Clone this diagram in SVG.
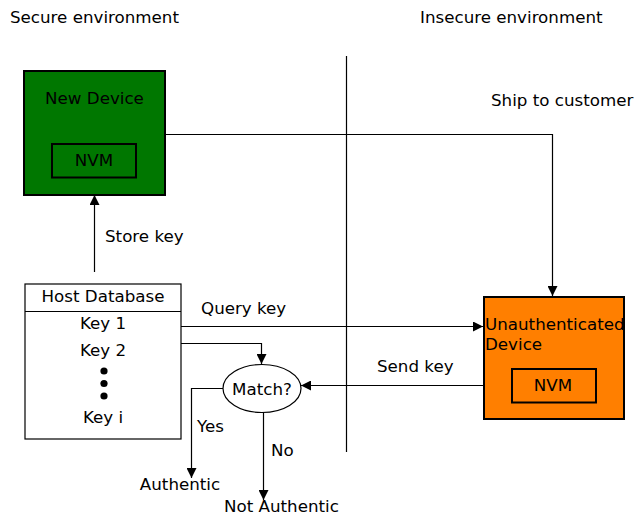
<svg xmlns="http://www.w3.org/2000/svg" width="636" height="519" viewBox="0 0 636 519">
  <style>
    text { font-family: "DejaVu Sans", Verdana, sans-serif; font-size: 16.7px; fill: #000; }
    .mid { text-anchor: middle; }
    .wire { fill: none; stroke: #000; stroke-width: 1.2; }
    .box { stroke: #000; stroke-width: 2; }
    .thin { fill: #fff; stroke: #000; stroke-width: 1.2; }
  </style>
  <defs>
    <marker id="arrow" viewBox="0 0 10 10" refX="10" refY="5" markerWidth="10" markerHeight="10" markerUnits="userSpaceOnUse" orient="auto">
      <path d="M0,0 L10,5 L0,10 z" fill="#000"/>
    </marker>
  </defs>
  <rect width="636" height="519" fill="#fff"/>

  <!-- zone titles -->
  <text x="10" y="23">Secure environment</text>
  <text x="420" y="23">Insecure environment</text>

  <!-- connectors -->
  <g id="connectors">
    <line class="wire" x1="346.5" y1="56" x2="346.5" y2="452"/>
    <polyline class="wire" points="165,134.5 552.5,134.5 552.5,296" marker-end="url(#arrow)"/>
    <line class="wire" x1="94.5" y1="272" x2="94.5" y2="195" marker-end="url(#arrow)"/>
    <line class="wire" x1="181" y1="326.5" x2="483" y2="326.5" marker-end="url(#arrow)"/>
    <polyline class="wire" points="179,343.5 261.5,343.5 261.5,364" marker-end="url(#arrow)"/>
    <line class="wire" x1="511" y1="385.5" x2="301" y2="385.5" marker-end="url(#arrow)"/>
    <polyline class="wire" points="223,388.5 191.5,388.5 191.5,478" marker-end="url(#arrow)"/>
    <line class="wire" x1="263.5" y1="412" x2="263.5" y2="500" marker-end="url(#arrow)"/>
    <text x="491" y="106">Ship to customer</text>
    <text x="105" y="242">Store key</text>
    <text x="201" y="314">Query key</text>
    <text x="377" y="372">Send key</text>
    <text x="197" y="432">Yes</text>
    <text x="271" y="456">No</text>
  </g>

  <g id="new-device">
    <rect class="box" x="24" y="71" width="141" height="124" fill="#007700"/>
    <text class="mid" x="94.5" y="104">New Device</text>
    <rect class="box" x="52" y="144" width="84" height="33.5" fill="none"/>
    <text class="mid" x="94" y="166">NVM</text>
  </g>

  <g id="host-database">
    <rect class="thin" x="25" y="284" width="156" height="155"/>
    <line class="wire" x1="25" y1="311.5" x2="181" y2="311.5"/>
    <text class="mid" x="103" y="302">Host Database</text>
    <text class="mid" x="103" y="329">Key 1</text>
    <text class="mid" x="103" y="356">Key 2</text>
    <circle cx="104" cy="371" r="3.6"/>
    <circle cx="104" cy="383.5" r="3.6"/>
    <circle cx="104" cy="396" r="3.6"/>
    <text class="mid" x="103" y="423">Key i</text>
  </g>

  <g id="match">
    <ellipse class="thin" cx="262" cy="388.5" rx="39" ry="24"/>
    <text class="mid" x="262" y="395">Match?</text>
  </g>

  <g id="unauthenticated-device">
    <rect class="box" x="484" y="297" width="140" height="122" fill="#ff7f00"/>
    <text x="485" y="330">Unauthenticated</text>
    <text x="485" y="350">Device</text>
    <rect class="box" x="512" y="369" width="84" height="33.5" fill="none"/>
    <text class="mid" x="553" y="391">NVM</text>
  </g>

  <g id="authentic">
    <text class="mid" x="180" y="490">Authentic</text>
  </g>
  <g id="not-authentic">
    <text x="224" y="512">Not Authentic</text>
  </g>
</svg>
